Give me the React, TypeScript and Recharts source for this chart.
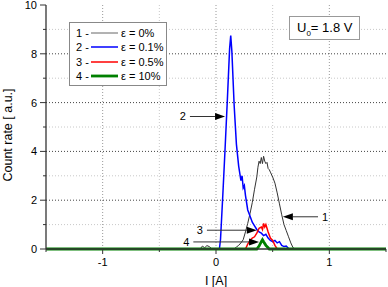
import { LineChart, Line, XAxis, YAxis, CartesianGrid, ReferenceLine, Legend } from "recharts";

const curveNumbers = ["1", "2", "3", "4"];
const strainLabels = ["ε = 0%", "ε = 0.1%", "ε = 0.5%", "ε = 10%"];
const curveColors = ["#333333", "#0000ff", "#ff0000", "#008000"];
const legendColors = ["#666666", "#0000ff", "#ff0000", "#008000"];
const curveWidths = [1, 1.5, 1.5, 2.8];

// curve 1, eps = 0%
const current1 = [-1.5, -0.14, -0.12, -0.1, -0.08, -0.06, -0.04, -0.02, 0.16, 0.18, 0.2, 0.22, 0.24, 0.26, 0.28, 0.3, 0.32, 0.34, 0.36, 0.37, 0.38, 0.39, 0.4, 0.41, 0.42, 0.43, 0.44, 0.45, 0.46, 0.47, 0.48, 0.5, 0.52, 0.54, 0.56, 0.58, 0.6, 0.62, 0.64, 0.66, 0.68, 0.7, 1.5];
const count1 = [0, 0, 0.12, 0.05, 0.14, 0.1, 0.02, 0, 0, 0.08, 0.15, 0.25, 0.38, 0.7, 1.05, 1.45, 1.9, 2.45, 2.95, 3.35, 3.6, 3.5, 3.75, 3.5, 3.8, 3.6, 3.5, 3.55, 3.3, 3.25, 3.15, 2.95, 2.7, 2.3, 1.85, 1.4, 1.0, 0.75, 0.5, 0.25, 0.05, 0, 0];

// curve 2, eps = 0.1%
const current2 = [-1.5, 0.03, 0.04, 0.06, 0.08, 0.1, 0.12, 0.13, 0.14, 0.16, 0.18, 0.2, 0.21, 0.22, 0.23, 0.24, 0.25, 0.26, 0.28, 0.3, 0.32, 0.34, 0.36, 0.38, 0.4, 0.42, 0.44, 0.46, 0.48, 0.5, 0.52, 0.54, 0.56, 0.58, 0.6, 0.62, 0.64, 0.66, 1.5];
const count2 = [0, 0, 0.4, 2.2, 4.1, 6.1, 8.2, 8.75, 8.1, 5.9, 4.3, 3.4, 3.1, 2.8, 3.0, 2.5, 2.6, 2.2, 1.6, 1.35, 1.1, 0.95, 0.8, 0.7, 0.65, 0.55, 0.6, 0.45, 0.35, 0.3, 0.35, 0.25, 0.3, 0.15, 0.1, 0.12, 0.02, 0, 0];

// curve 3, eps = 0.5%
const current3 = [-1.5, 0.26, 0.28, 0.3, 0.32, 0.34, 0.36, 0.38, 0.4, 0.41, 0.42, 0.43, 0.44, 0.45, 0.46, 0.48, 0.5, 0.52, 0.54, 1.5];
const count3 = [0, 0, 0.2, 0.35, 0.45, 0.5, 0.65, 0.85, 0.9, 0.8, 1.05, 0.9, 1.0, 0.85, 0.7, 0.45, 0.35, 0.15, 0, 0];

// curve 4, eps = 10%
const current4 = [-1.5, 0.36, 0.38, 0.4, 0.41, 0.42, 0.44, 0.46, 0.47, 1.5];
const count4 = [0, 0, 0.12, 0.3, 0.38, 0.3, 0.15, 0.05, 0, 0];

const xTicks = [-1.5, -1, -0.5, 0, 0.5, 1, 1.5];
const yTicks = [0, 1, 2, 3, 4, 5, 6, 7, 8, 9, 10];

// arrows pointing at the curves
const arrowFrom = [0.9, -0.23, -0.08, -0.2];
const arrowTo = [0.59, 0.08, 0.36, 0.38];
const arrowLevel = [1.32, 5.43, 0.77, 0.29];

const series = [
  [current1, count1],
  [current2, count2],
  [current3, count3],
  [current4, count4],
].map(([xs, ys]) => xs.map((x, i) => ({ current: x, count: ys[i] })));

const FONT = "'Liberation Sans', Arial, sans-serif";
const Y_TICK = 6;
const Y_MARGIN = 3;
const X_TICK = 5;
const X_MARGIN = 4;

function YTick(props: any) {
  const { x, y, payload } = props;
  const v = payload.value;
  const major = v % 2 === 0;
  const ax = x + Y_TICK + Y_MARGIN;
  return (
    <g>
      <line x1={ax} x2={ax - (major ? Y_TICK : 3)} y1={y} y2={y} stroke="#333" />
      {major && (
        <text x={x} y={y} dy="0.36em" textAnchor="end" fontSize={11} fontFamily={FONT} fill="#000">
          {v}
        </text>
      )}
    </g>
  );
}

function XTick(props: any) {
  const { x, y, payload } = props;
  const v = payload.value;
  const major = Number.isInteger(v);
  const ay = y - X_TICK - X_MARGIN;
  return (
    <g>
      <line x1={x} x2={x} y1={ay} y2={ay + (major ? X_TICK : 3)} stroke="#333" />
      {major && (
        <text x={x} y={y} dy="0.72em" textAnchor="middle" fontSize={11} fontFamily={FONT} fill="#000">
          {v}
        </text>
      )}
    </g>
  );
}

function Arrow(props: any) {
  const { x1, y1, x2, y2, label } = props;
  const dir = x2 > x1 ? 1 : -1;
  const bx = x2 - dir * 10;
  return (
    <g>
      <line x1={x1} y1={y1} x2={bx} y2={y2} stroke="#333" strokeWidth={1} />
      <polygon points={`${x2},${y2} ${bx},${y2 - 3.5} ${bx},${y2 + 3.5}`} fill="#000" />
      <text
        x={x1 - dir * 4}
        y={y1}
        dy="0.36em"
        textAnchor={dir > 0 ? "end" : "start"}
        fontSize={11}
        fontFamily={FONT}
        fill="#000"
      >
        {label}
      </text>
    </g>
  );
}

function LegendBox() {
  return (
    <div
      style={{
        background: "#fff",
        border: "1px solid #888",
        boxSizing: "border-box",
        width: 98,
        height: 64,
        padding: "3px 0 0 6px",
        fontFamily: FONT,
        fontSize: 11,
        lineHeight: "14.3px",
        color: "#000",
      }}
    >
      {curveNumbers.map((n, i) => (
        <div key={n} style={{ display: "flex", alignItems: "center", whiteSpace: "nowrap" }}>
          <span style={{ width: 15 }}>{n} -</span>
          <svg width={27} height={6} style={{ margin: "0 3px 0 0" }}>
            <line x1={0} x2={27} y1={3} y2={3} stroke={legendColors[i]} strokeWidth={curveWidths[i]} />
          </svg>
          <span>{strainLabels[i]}</span>
        </div>
      ))}
    </div>
  );
}

export default function App() {
  return (
    <div style={{ position: "absolute", left: 0, top: 0, width: 388, height: 287, background: "#fff" }}>
      <LineChart width={388} height={287} margin={{ top: 5, right: 2, left: 0, bottom: 0 }}>
        <CartesianGrid
          stroke="#c8c8c8"
          strokeDasharray="1 2"
          horizontalValues={[1, 3, 5, 7, 9]}
          verticalValues={[-0.5, 0.5]}
        />
        <CartesianGrid stroke="#999" strokeDasharray="1 2" horizontal={false} verticalValues={[-1, 0, 1]} />
        <CartesianGrid stroke="#444" strokeDasharray="1 2" vertical={false} horizontalValues={[2, 4, 6, 8]} />
        <XAxis
          type="number"
          dataKey="current"
          domain={[-1.5, 1.5]}
          ticks={xTicks}
          allowDuplicatedCategory={false}
          height={38}
          tickSize={X_TICK}
          tickMargin={X_MARGIN}
          tickLine={false}
          tick={<XTick />}
          interval={0}
          axisLine={{ stroke: "#333", strokeWidth: 1.3 }}
          label={{
            content: (p: any) => (
              <text
                x={p.viewBox.x + p.viewBox.width / 2}
                y={p.viewBox.y + p.viewBox.height - 2}
                textAnchor="middle"
                fontSize={12.5}
                fontFamily={FONT}
                fill="#000"
              >
                I [A]
              </text>
            ),
          }}
        />
        <XAxis
          xAxisId="top"
          orientation="top"
          type="number"
          domain={[-1.5, 1.5]}
          height={0}
          tick={false}
          tickLine={false}
          axisLine={{ stroke: "#333", strokeWidth: 1.3 }}
        />
        <YAxis
          type="number"
          domain={[0, 10]}
          ticks={yTicks}
          width={46}
          tickSize={Y_TICK}
          tickMargin={Y_MARGIN}
          tickLine={false}
          tick={<YTick />}
          interval={0}
          axisLine={{ stroke: "#333", strokeWidth: 1.3 }}
          label={{
            content: (p: any) => (
              <text
                transform={`translate(${p.viewBox.x + 11.5},${p.viewBox.y + p.viewBox.height / 2 + 8}) rotate(-90)`}
                textAnchor="middle"
                fontSize={12.5}
                fontFamily={FONT}
                fill="#000"
              >
                Count rate [ a.u.]
              </text>
            ),
          }}
        />
        <YAxis
          yAxisId="right"
          orientation="right"
          type="number"
          domain={[0, 10]}
          width={0}
          tick={false}
          tickLine={false}
          axisLine={{ stroke: "#333", strokeWidth: 1.3 }}
        />
        <Legend
          layout="vertical"
          align="center"
          verticalAlign="middle"
          wrapperStyle={{ left: 69, top: 22, width: 98, height: 64 }}
          content={() => <LegendBox />}
        />
        {series.map((data, i) => (
          <Line
            key={curveNumbers[i]}
            data={data}
            dataKey="count"
            type="linear"
            stroke={curveColors[i]}
            strokeWidth={curveWidths[i]}
            dot={false}
            activeDot={false}
            isAnimationActive={false}
            legendType="none"
          />
        ))}
        {curveNumbers.map((n, i) => (
          <ReferenceLine
            key={"arrow" + n}
            segment={[
              { x: arrowFrom[i], y: arrowLevel[i] },
              { x: arrowTo[i], y: arrowLevel[i] },
            ]}
            shape={(p: any) => <Arrow {...p} label={n} />}
          />
        ))}
      </LineChart>
      <div
        style={{
          position: "absolute",
          left: 289,
          top: 16,
          width: 71,
          height: 24,
          boxSizing: "border-box",
          border: "1px solid #999",
          background: "#fff",
          fontFamily: FONT,
          fontSize: 13,
          lineHeight: "22px",
          paddingLeft: 7,
          color: "#000",
          whiteSpace: "nowrap",
        }}
      >
        U<sub style={{ fontSize: 8 }}>0</sub>= 1.8 V
      </div>
    </div>
  );
}
